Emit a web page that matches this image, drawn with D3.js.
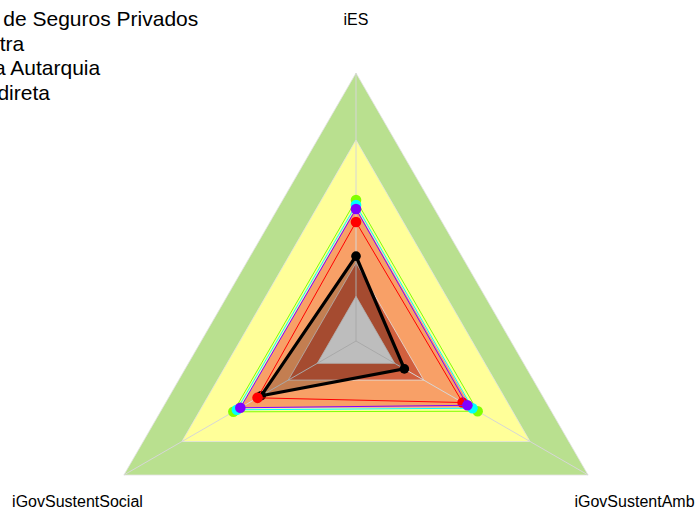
<!DOCTYPE html>
<html>
<head>
<meta charset="utf-8">
<script src="https://cdn.jsdelivr.net/npm/d3@7"></script>
<style>
  html, body { margin: 0; padding: 0; background: #ffffff; }
  svg { display: block; }
  text { font-family: "Liberation Sans", Arial, sans-serif; }
</style>
</head>
<body>
<svg id="chart" width="699" height="510"></svg>
<script>
// ---- data ----
const axes = ["iES", "iGovSustentAmb", "iGovSustentSocial"];
const legendLabels = [
  "Superintendência de Seguros Privados",
  "Média do Tipo Outra",
  "Média do Setor da Autarquia",
  "Média da Adm. Indireta"
];
const bandLimits = [-0.2, 0, 0.15, 0.4, 0.7, 1.0];
const bandColors = ["#f0f0f0", "#d2603e", "#f8a067", "#ffff99", "#b9e08f"];
const seriesNames = ["Organização", "Série 1", "Série 2", "Série 3", "Série 4"];
const seriesColors = ["#000000", "#ff0000", "#80ff00", "#00ffff", "#8000ff"];
const orgValues = [0.18, 0.05, 0.29];
const s1Values = [0.333, 0.351, 0.309];
const s2Values = [0.431, 0.429, 0.434];
const s3Values = [0.409, 0.402, 0.416];
const s4Values = [0.391, 0.376, 0.398];
const seriesValues = [orgValues, s1Values, s2Values, s3Values, s4Values];

// ---- layout ----
const svg = d3.select("#chart");
const cx = 356, cy = 341, R = 268;
const r = d3.scaleLinear().domain([-0.2, 1]).range([0, R]);
const angle = d3.scaleOrdinal().domain(axes).range([-90, 30, 150].map(a => a * Math.PI / 180));
const pt = (ax, v) => [cx + r(v) * Math.cos(angle(ax)), cy + r(v) * Math.sin(angle(ax))];
const line = d3.line().curve(d3.curveLinearClosed);

// bands (outer first)
const bands = d3.range(bandColors.length).map(i => ({ top: bandLimits[i + 1], color: bandColors[i] })).reverse();
svg.append("g").selectAll("path").data(bands).join("path")
  .attr("d", d => line(axes.map(a => pt(a, d.top))))
  .attr("fill", d => d.color)
  .attr("stroke", "#e2e2e2")
  .attr("stroke-width", 0.8);

// axis lines
svg.append("g").selectAll("line").data(axes).join("line")
  .attr("x1", cx).attr("y1", cy)
  .attr("x2", d => pt(d, 1)[0]).attr("y2", d => pt(d, 1)[1])
  .attr("stroke", "#d6d6d6").attr("stroke-width", 1);

// series
const sg = svg.append("g");
seriesValues.forEach((vals, i) => {
  const pts = axes.map((a, j) => pt(a, vals[j]));
  const isOrg = i === 0;
  sg.append("path")
    .attr("d", line(pts))
    .attr("fill", isOrg ? "rgba(0,0,0,0.21)" : "none")
    .attr("stroke", seriesColors[i])
    .attr("stroke-width", isOrg ? 3.2 : 1)
    .attr("stroke-linejoin", "miter");
  sg.append("g").selectAll("circle").data(pts).join("circle")
    .attr("cx", d => d[0]).attr("cy", d => d[1])
    .attr("r", isOrg ? 4.8 : 5.3)
    .attr("fill", seriesColors[i]);
});

// axis labels
svg.append("g").selectAll("text").data(axes).join("text")
  .attr("x", d => cx + 1.2 * R * Math.cos(angle(d)))
  .attr("y", d => cy + 1.2 * R * Math.sin(angle(d)))
  .attr("text-anchor", "middle")
  .attr("dominant-baseline", "central")
  .attr("font-size", 16)
  .attr("fill", "#000")
  .text(d => d);

// legend (partly outside the canvas, as in the reference)
svg.append("g").selectAll("text").data(legendLabels).join("text")
  .attr("x", -166)
  .attr("y", (d, i) => 26 + i * 24.7)
  .attr("font-size", 21)
  .attr("fill", "#000")
  .text(d => d);
</script>
</body>
</html>
